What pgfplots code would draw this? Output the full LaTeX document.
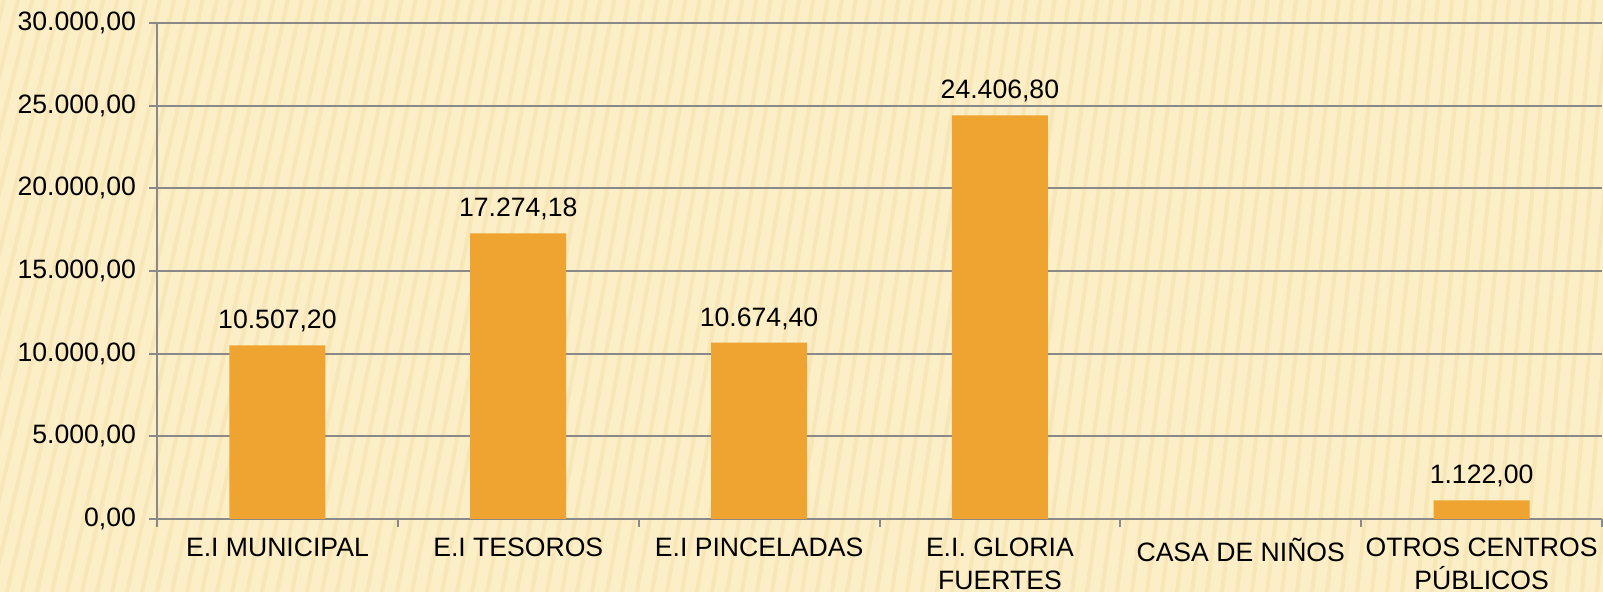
\documentclass[border=0pt]{standalone}
\usepackage{fontspec}
\setmainfont{Liberation Sans}
\usepackage{pgfplots}
\pgfplotsset{compat=1.18}

\definecolor{bgcream}{RGB}{252,238,198}
\definecolor{stripe}{RGB}{236,214,150}
\definecolor{barorange}{RGB}{239,163,48}
\definecolor{gridgray}{RGB}{137,137,137}

\newcommand{\chartfont}{\fontsize{13.3}{16.5}\selectfont}

\begin{document}
\begin{tikzpicture}
% background (page is exactly this rectangle)
\fill[bgcream, use as bounding box] (-78.5pt,-36.5pt) rectangle (723pt,259.5pt);
\begin{scope}
  \clip (-78.5pt,-36.5pt) rectangle (723pt,259.5pt);
  \foreach \i in {0,...,130} {
    \draw[stripe, line width=2pt, opacity=0.3]
      ({-180pt+\i*7.5pt},-36.5pt) -- ({-180pt+\i*7.5pt+75pt-\i*0.4pt},259.5pt);
  }
\end{scope}

\begin{axis}[
    at={(0,0)}, anchor=south west,
    scale only axis,
    width=722.5pt, height=248pt,
    xmin=-0.5, xmax=5.5,
    ymin=0, ymax=30000,
    ytick={0,5000,...,30000},
    scaled y ticks=false,
    xtick={0,...,5},
    xticklabels={E.I MUNICIPAL, E.I TESOROS, E.I PINCELADAS,
                 E.I. GLORIA\\FUERTES, CASA DE NIÑOS, OTROS CENTROS\\PÚBLICOS},
    minor xtick={-0.5,0.5,...,5.5},
    axis lines=left,
    axis line style={-, draw=gridgray, line width=1pt},
    ymajorgrids,
    grid style={gridgray, line width=1pt},
    tick align=outside,
    major tick length=4pt,
    minor tick length=4pt,
    xtick style={draw=none},
    minor x tick style={draw=gridgray, line width=1pt},
    ytick style={draw=gridgray, line width=1pt},
    tick label style={font=\chartfont, text=black},
    xticklabel style={align=center, yshift=-2pt},
    yticklabel style={xshift=-3pt},
    /pgf/number format/.cd, fixed, fixed zerofill, precision=2, use comma,
        1000 sep={.}, assume math mode=true,
    /pgfplots/.cd,
    ybar, bar width=48pt,
    nodes near coords,
    every node near coord/.append style={font=\chartfont, text=black, yshift=3pt,
        /pgf/number format/.cd, fixed, fixed zerofill, precision=2, use comma,
        1000 sep={.}, assume math mode=true},
]
\addplot[fill=barorange, draw=none] coordinates {
    (0,10507.20) (1,17274.18) (2,10674.40) (3,24406.80) (5,1122.00)};
\end{axis}
\end{tikzpicture}
\end{document}
